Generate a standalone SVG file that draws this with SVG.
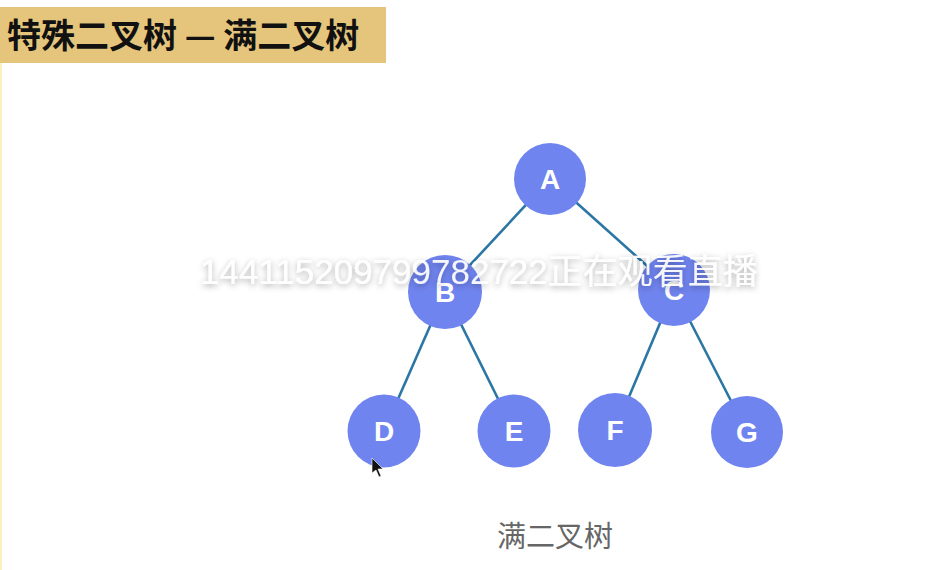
<svg xmlns="http://www.w3.org/2000/svg" width="932" height="570" viewBox="0 0 932 570">
<style>
.node circle{fill:#7084ef;}
.node text{fill:#fff;font-family:"Liberation Sans",Arial,sans-serif;font-size:28px;font-weight:bold;text-anchor:middle;}
.edge{stroke:#2b76a4;stroke-width:2.6;}
.title{font-family:"Noto Sans CJK SC","Noto Sans",sans-serif;font-size:34px;font-weight:bold;fill:#111;}
.caption{font-family:"Noto Sans CJK SC","Noto Sans",sans-serif;font-size:29px;fill:#666;text-anchor:middle;}
.wm{font-family:"Liberation Sans","Noto Sans CJK SC",sans-serif;font-size:35px;fill:#fff;fill-opacity:0.92;}
</style>
<defs>
<filter id="sh" x="-10%" y="-50%" width="120%" height="200%">
<feDropShadow dx="0" dy="2" stdDeviation="3" flood-color="#000" flood-opacity="0.35"/>
</filter>
</defs>
<rect width="932" height="570" fill="#fff"/>
<rect x="0" y="62" width="2" height="508" fill="#fbf0c0"/>
<g id="title">
<rect x="0" y="7" width="386" height="56" fill="#e5c57b"/>
<text class="title" x="7" y="48">特殊二叉树 — 满二叉树</text>
</g>
<g id="connectors">
<line class="edge" x1="550" y1="179" x2="445" y2="292"/>
<line class="edge" x1="550" y1="179" x2="674" y2="290"/>
<line class="edge" x1="445" y1="292" x2="384" y2="431"/>
<line class="edge" x1="445" y1="292" x2="514" y2="431"/>
<line class="edge" x1="674" y1="290" x2="615" y2="430"/>
<line class="edge" x1="674" y1="290" x2="747" y2="432"/>
</g>
<g id="A" class="node"><circle cx="550" cy="179" r="36"/><text x="550" y="189">A</text></g>
<g id="B" class="node"><circle cx="445" cy="292" r="37"/><text x="445" y="302">B</text></g>
<g id="C" class="node"><circle cx="674" cy="290" r="36"/><text x="674" y="300">C</text></g>
<g id="D" class="node"><circle cx="384" cy="431" r="36.5"/><text x="384" y="441">D</text></g>
<g id="E" class="node"><circle cx="514" cy="431" r="36.5"/><text x="514" y="441">E</text></g>
<g id="F" class="node"><circle cx="615" cy="430" r="37"/><text x="615" y="440">F</text></g>
<g id="G" class="node"><circle cx="747" cy="432" r="36"/><text x="747" y="442">G</text></g>
<text class="caption" x="555" y="547">满二叉树</text>
<text class="wm" x="200" y="284" filter="url(#sh)">144115209799782722正在观看直播</text>
<polygon points="372,458 372,473 376,470 379,477 381,476 378,469 383,469" fill="#111" stroke="#fff" stroke-width="0.6"/>
</svg>
